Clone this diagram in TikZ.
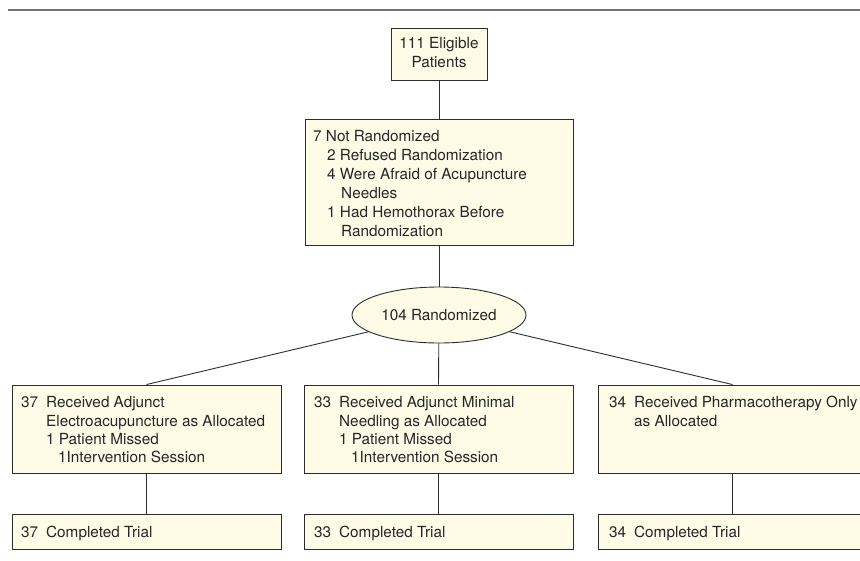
\documentclass[tikz,border=0pt]{standalone}
\usepackage{fontspec}
\setmainfont{TeX Gyre Heros}
\usetikzlibrary{shapes.geometric}
\definecolor{cream}{RGB}{254,251,231}
\definecolor{edgec}{RGB}{45,45,45}
\definecolor{rulec}{RGB}{115,115,115}
\begin{document}
\begin{tikzpicture}[x=1pt,y=-1pt,
  every node/.style={font=\fontsize{15.3}{18.6}\selectfont, text=black!85},
  boxsty/.style={draw=edgec, fill=cream, line width=0.9pt, inner sep=0pt, rectangle},
  ellsty/.style={draw=edgec, fill=cream, line width=0.9pt, inner sep=0pt, ellipse, minimum width=174pt, minimum height=56pt},
  txt/.style={anchor=base west, inner sep=0pt},
  conn/.style={draw=edgec, line width=0.9pt},
  rulesty/.style={draw=rulec, line width=2pt}
]
\useasboundingbox (0,0) rectangle (860,560);
\clip (0,0) rectangle (860,560);
\newcommand{\numc}[1]{\makebox[25pt][l]{#1}}

\draw[rulesty] (8,9.5) -- (860,9.5);

% boxes
\node[boxsty, minimum width=96pt, minimum height=52pt] (elig) at (439,54) {};
\node[boxsty, minimum width=268pt, minimum height=126pt] (notr) at (439,182) {};
\node[ellsty] (rand) at (439,315) {104 Randomized};
\node[boxsty, minimum width=269pt, minimum height=88pt] (ea) at (146.5,429) {};
\node[boxsty, minimum width=269pt, minimum height=88pt] (mn) at (438.5,429) {};
\node[boxsty, minimum width=269pt, minimum height=88pt] (ph) at (732.5,429) {};
\node[boxsty, minimum width=269pt, minimum height=35pt] (eac) at (146.5,531.5) {};
\node[boxsty, minimum width=269pt, minimum height=35pt] (mnc) at (438.5,531.5) {};
\node[boxsty, minimum width=269pt, minimum height=35pt] (phc) at (732.5,531.5) {};

% connectors
\draw[conn] (elig) -- (notr);
\draw[conn] (notr) -- (rand);
\draw[conn] (rand) -- (ea.north);
\draw[conn] (rand) -- (mn.north);
\draw[conn] (rand) -- (ph.north);
\draw[conn] (ea) -- (eac);
\draw[conn] (mn) -- (mnc);
\draw[conn] (ph) -- (phc);

% texts
\node[align=center, inner sep=0pt] (eligt) at (439,52.5) {111 Eligible\\Patients};

\node[txt] (n1) at (313,141.7) {7 Not Randomized};
\node[txt] (n2) at (327,160.6) {2 Refused Randomization};
\node[txt] (n3) at (327,179.5) {4 Were Afraid of Acupuncture};
\node[txt] (n4) at (341,198.4) {Needles};
\node[txt] (n5) at (327,217.3) {1 Had Hemothorax Before};
\node[txt] (n6) at (341,236.2) {Randomization};

\node[txt] (a1) at (21,407.7) {\numc{37}Received Adjunct};
\node[txt] (a2) at (46,426.1) {Electroacupuncture as Allocated};
\node[txt] (a3) at (46,444.5) {1 Patient Missed};
\node[txt] (a4) at (58,462.9) {1Intervention Session};

\node[txt] (b1) at (314,407.7) {\numc{33}Received Adjunct Minimal};
\node[txt] (b2) at (339,426.1) {Needling as Allocated};
\node[txt] (b3) at (339,444.5) {1 Patient Missed};
\node[txt] (b4) at (351,462.9) {1Intervention Session};

\node[txt] (c1) at (609,407.7) {\numc{34}Received Pharmacotherapy Only};
\node[txt] (c2) at (634,426.1) {as Allocated};

\node[txt] (ac) at (21,537) {\numc{37}Completed Trial};
\node[txt] (bc) at (314,537) {\numc{33}Completed Trial};
\node[txt] (cc) at (609,537) {\numc{34}Completed Trial};
\end{tikzpicture}
\end{document}
